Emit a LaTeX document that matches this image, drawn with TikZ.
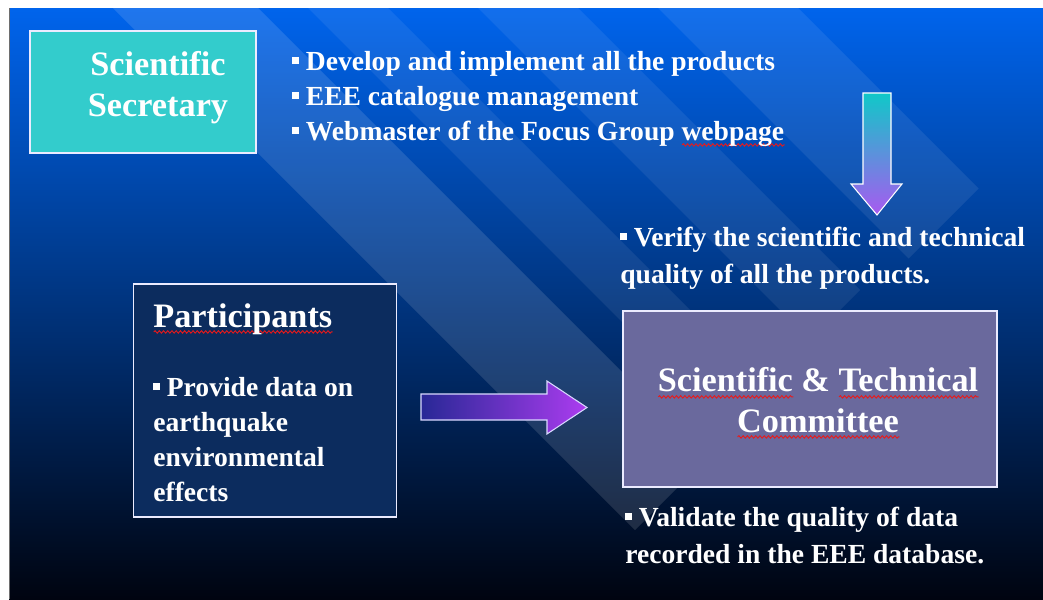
\documentclass[tikz,border=0pt]{standalone}
\usepackage{fontspec}
\setmainfont{Liberation Serif}
\usetikzlibrary{positioning,decorations.pathmorphing}

\definecolor{topblue}{RGB}{0,100,236}
\definecolor{midblue}{RGB}{8,64,170}
\definecolor{botblue}{RGB}{0,4,16}
\definecolor{secfill}{RGB}{51,204,204}
\definecolor{partfill}{RGB}{12,44,94}
\definecolor{comfill}{RGB}{106,105,157}
\definecolor{arrcyan}{RGB}{16,200,200}
\definecolor{arrviolet}{RGB}{168,90,240}
\definecolor{arrblue}{RGB}{40,40,150}
\definecolor{arrpurple}{RGB}{172,60,240}
\definecolor{spellred}{RGB}{235,25,25}
\definecolor{framegray}{RGB}{110,110,110}

\newsavebox\spellbox
\newcommand\bul{\raisebox{0.22em}{\rule{0.24em}{0.24em}}\ }
\newcommand\spell[1]{\sbox\spellbox{#1}\rlap{\smash{\tikz[baseline=0pt]\draw[spellred, line width=0.5pt, decorate, decoration={snake, amplitude=0.7pt, segment length=2.4pt}] (0pt,-2.8pt) -- (\wd\spellbox,-2.8pt);}}\usebox\spellbox}

\begin{document}
\begin{tikzpicture}[x=0.02cm, y=-0.02cm]

\tikzstyle{box} = [rectangle, draw=white!92!blue, line width=1pt, inner sep=0pt]
\tikzstyle{title} = [font=\bfseries\fontsize{19.5}{22.8}\selectfont, text=white, align=center, inner sep=0pt]
\tikzstyle{body} = [font=\bfseries\fontsize{15.7}{19.9}\selectfont, text=white, align=left, inner sep=0pt]
\tikzstyle{bodywide} = [body, font=\bfseries\fontsize{15.7}{21}\selectfont]

\useasboundingbox (0,0) rectangle (1043,599);
\fill[white] (0,0) rectangle (1043,599);
\shade[top color=topblue, middle color=midblue, bottom color=botblue] (9,8) rectangle (1043,599);

% light diagonal bands
\begin{scope}
\clip (9,8) rectangle (1043,599);
\foreach \a/\b/\e/\o in {105/250/1165/0.12, 300/380/1100/0.07, 470/570/1150/0.07, 650/790/1167/0.08}
  \fill[white, opacity=\o] (\a,0) -- (\b,0) -- ({(\e+\b)/2},{(\e-\b)/2}) -- ({(\e+\a)/2},{(\e-\a)/2}) -- cycle;
\end{scope}
\draw[framegray, line width=1.1pt] (9.5,8) -- (9.5,599);

\node (sec) [box, fill=secfill, minimum width=4.52cm, minimum height=2.44cm] at (143,92) {};
\node (part) [box, fill=partfill, minimum width=5.26cm, minimum height=4.66cm] at (265,400.5) {};
\node (com) [box, fill=comfill, minimum width=7.48cm, minimum height=3.52cm] at (810,399) {};

% base anchors sit on the last line of each block
\node (sectitle) [title, anchor=base] at (158,116) {Scientific\\Secretary};
\node (duties) [body, anchor=base west] at (292,140) {\bul Develop and implement all the products\\\bul EEE catalogue management\\\bul Webmaster of the Focus Group \spell{webpage}};
\node (verify) [bodywide, anchor=base west] at (620,283) {\bul Verify the scientific and technical\\quality of all the products.};
\node (parttitle) [title, anchor=base west] at (153,327) {\spell{Participants}};
\node (provide) [body, anchor=base west] at (153,501) {\bul Provide data on\\earthquake\\environmental\\effects};
\node (comtitle) [title, anchor=base] at (818,432) {\spell{Scientific} \& \spell{Technical}\\\spell{Committee}};
\node (validate) [bodywide, anchor=base west] at (625,563) {\bul Validate the quality of data\\recorded in the EEE database.};

\shade[top color=arrcyan, bottom color=arrviolet, draw=white, line width=0.6pt] (863,93) -- (891,93) -- (891,184) -- (902,184) -- (877,215) -- (851,184) -- (863,184) -- cycle;
\shade[left color=arrblue, right color=arrpurple, draw=white!85!blue, line width=0.6pt] (421,394) -- (547,394) -- (547,381) -- (587,407.5) -- (547,434) -- (547,420) -- (421,420) -- cycle;
\end{tikzpicture}
\end{document}
